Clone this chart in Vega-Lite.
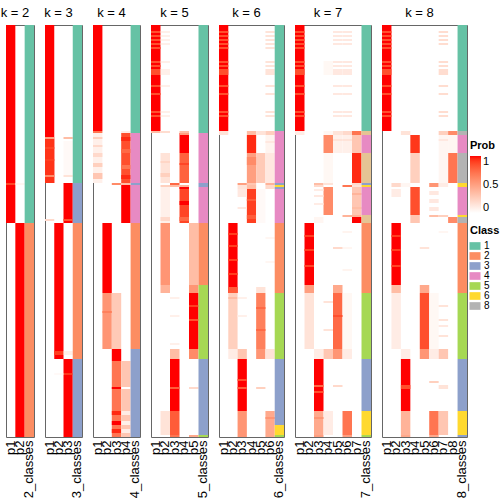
{
"$schema": "https://vega.github.io/schema/vega-lite/v6.json",
"padding": {"left": 0, "top": 6, "right": 0, "bottom": 0},
"bounds": "flush",
"spacing": 11,
"config": {
 "font": "Liberation Sans",
 "view": {"stroke": "#666666", "strokeWidth": 1},
 "title": {"fontSize": 13, "fontWeight": "normal", "offset": 5, "color": "#000000"},
 "axis": {"labelColor": "#000000", "labelFontSize": 13},
 "legend": {"titleFontSize": 11, "labelFontSize": 11, "titleColor": "#000000", "labelColor": "#000000"}
},
"datasets": {
"p": [
{"k":2,"c":"p1","a":0,"b":99,"p":1},
{"k":2,"c":"p1","a":79,"b":80,"p":0.88},
{"k":2,"c":"p2","a":79,"b":80,"p":0.05},
{"k":2,"c":"p2","a":99,"b":206,"p":1},

{"k":3,"c":"p1","a":0,"b":79,"p":1},
{"k":3,"c":"p1","a":56,"b":57,"p":0.5},
{"k":3,"c":"p3","a":56,"b":57,"p":0.35},
{"k":3,"c":"p1","a":57,"b":79,"p":0.93},
{"k":3,"c":"p3","a":58,"b":75,"p":0.03},
{"k":3,"c":"p1","a":61,"b":62,"p":0.88},
{"k":3,"c":"p1","a":67,"b":68,"p":0.9},
{"k":3,"c":"p1","a":75,"b":76,"p":0.6},
{"k":3,"c":"p3","a":75,"b":76,"p":0.15},
{"k":3,"c":"p3","a":79,"b":99,"p":1},
{"k":3,"c":"p1","a":97,"b":98,"p":0.2},
{"k":3,"c":"p3","a":97,"b":98,"p":0.85},
{"k":3,"c":"p2","a":99,"b":167,"p":1},
{"k":3,"c":"p2","a":163,"b":165,"p":0.9},
{"k":3,"c":"p3","a":163,"b":165,"p":0.08},
{"k":3,"c":"p3","a":167,"b":206,"p":1},
{"k":3,"c":"p3","a":174,"b":175,"p":0.92},
{"k":3,"c":"p2","a":174,"b":175,"p":0.03},

{"k":4,"c":"p1","a":0,"b":53,"p":1},
{"k":4,"c":"p1","a":53,"b":54,"p":0.7},
{"k":4,"c":"p4","a":53,"b":54,"p":0.1},
{"k":4,"c":"p1","a":54,"b":79,"p":0.08},
{"k":4,"c":"p1","a":56,"b":57,"p":0.25},
{"k":4,"c":"p1","a":60,"b":61,"p":0.2},
{"k":4,"c":"p1","a":64,"b":66,"p":0.2},
{"k":4,"c":"p1","a":69,"b":71,"p":0.25},
{"k":4,"c":"p1","a":74,"b":77,"p":0.3},
{"k":4,"c":"p4","a":54,"b":79,"p":0.85},
{"k":4,"c":"p4","a":56,"b":58,"p":0.95},
{"k":4,"c":"p4","a":62,"b":64,"p":0.75},
{"k":4,"c":"p4","a":70,"b":72,"p":0.7},
{"k":4,"c":"p4","a":75,"b":77,"p":0.95},
{"k":4,"c":"p3","a":79,"b":80,"p":0.6},
{"k":4,"c":"p4","a":79,"b":80,"p":0.35},
{"k":4,"c":"p4","a":80,"b":99,"p":1},
{"k":4,"c":"p2","a":99,"b":134,"p":1},
{"k":4,"c":"p2","a":134,"b":162,"p":0.55},
{"k":4,"c":"p3","a":134,"b":162,"p":0.28},
{"k":4,"c":"p2","a":143,"b":144,"p":0.65},
{"k":4,"c":"p3","a":162,"b":168,"p":1},
{"k":4,"c":"p3","a":168,"b":206,"p":0.7},
{"k":4,"c":"p4","a":168,"b":206,"p":0.3},
{"k":4,"c":"p3","a":181,"b":182,"p":1},
{"k":4,"c":"p4","a":181,"b":182,"p":0},
{"k":4,"c":"p3","a":193,"b":195,"p":0.95},
{"k":4,"c":"p4","a":193,"b":195,"p":0.1},
{"k":4,"c":"p3","a":198,"b":200,"p":1},
{"k":4,"c":"p4","a":198,"b":200,"p":0.08},
{"k":4,"c":"p3","a":202,"b":204,"p":0.95},
{"k":4,"c":"p4","a":202,"b":204,"p":0.1},

{"k":5,"c":"p1","a":0,"b":53,"p":1},
{"k":5,"c":"p1","a":3,"b":4,"p":0.85},
{"k":5,"c":"p1","a":5,"b":6,"p":0.85},
{"k":5,"c":"p1","a":7,"b":8,"p":0.85},
{"k":5,"c":"p1","a":9,"b":10,"p":0.85},
{"k":5,"c":"p1","a":11,"b":12,"p":0.85},
{"k":5,"c":"p1","a":18,"b":19,"p":0.85},
{"k":5,"c":"p1","a":20,"b":21,"p":0.85},
{"k":5,"c":"p1","a":22,"b":25,"p":0.85},
{"k":5,"c":"p1","a":30,"b":31,"p":0.85},
{"k":5,"c":"p1","a":34,"b":35,"p":0.85},
{"k":5,"c":"p1","a":43,"b":44,"p":0.85},
{"k":5,"c":"p1","a":45,"b":46,"p":0.85},
{"k":5,"c":"p2","a":3,"b":4,"p":0.08},
{"k":5,"c":"p2","a":5,"b":6,"p":0.08},
{"k":5,"c":"p2","a":7,"b":8,"p":0.08},
{"k":5,"c":"p2","a":9,"b":10,"p":0.08},
{"k":5,"c":"p2","a":18,"b":19,"p":0.08},
{"k":5,"c":"p2","a":22,"b":25,"p":0.08},
{"k":5,"c":"p2","a":30,"b":31,"p":0.08},
{"k":5,"c":"p2","a":43,"b":44,"p":0.08},
{"k":5,"c":"p2","a":45,"b":46,"p":0.08},
{"k":5,"c":"p1","a":53,"b":54,"p":0.35},
{"k":5,"c":"p2","a":53,"b":54,"p":0.18},
{"k":5,"c":"p4","a":53,"b":54,"p":0.35},
{"k":5,"c":"p4","a":54,"b":64,"p":1},
{"k":5,"c":"p4","a":54,"b":55,"p":0.5},
{"k":5,"c":"p2","a":64,"b":79,"p":0.15},
{"k":5,"c":"p4","a":64,"b":79,"p":0.78},
{"k":5,"c":"p2","a":68,"b":69,"p":0.22},
{"k":5,"c":"p2","a":74,"b":76,"p":0.25},
{"k":5,"c":"p4","a":69,"b":70,"p":0.88},
{"k":5,"c":"p3","a":79,"b":80,"p":0.75},
{"k":5,"c":"p2","a":80,"b":81,"p":0.25},
{"k":5,"c":"p3","a":80,"b":81,"p":0.35},
{"k":5,"c":"p4","a":80,"b":81,"p":0.4},
{"k":5,"c":"p4","a":81,"b":99,"p":0.88},
{"k":5,"c":"p4","a":81,"b":82,"p":1},
{"k":5,"c":"p4","a":88,"b":90,"p":1},
{"k":5,"c":"p4","a":96,"b":98,"p":0.75},
{"k":5,"c":"p2","a":81,"b":99,"p":0.08},
{"k":5,"c":"p2","a":96,"b":98,"p":0.2},
{"k":5,"c":"p2","a":99,"b":130,"p":0.55},
{"k":5,"c":"p5","a":99,"b":130,"p":0.35},
{"k":5,"c":"p2","a":130,"b":134,"p":0.4},
{"k":5,"c":"p5","a":130,"b":134,"p":0.55},
{"k":5,"c":"p5","a":134,"b":162,"p":1},
{"k":5,"c":"p5","a":140,"b":141,"p":0.9},
{"k":5,"c":"p5","a":147,"b":148,"p":0.85},
{"k":5,"c":"p3","a":136,"b":137,"p":0.08},
{"k":5,"c":"p3","a":145,"b":146,"p":0.08},
{"k":5,"c":"p3","a":159,"b":160,"p":0.08},
{"k":5,"c":"p3","a":162,"b":167,"p":0.35},
{"k":5,"c":"p5","a":162,"b":167,"p":0.6},
{"k":5,"c":"p3","a":167,"b":193,"p":1},
{"k":5,"c":"p3","a":181,"b":182,"p":0.8},
{"k":5,"c":"p5","a":181,"b":182,"p":0.2},
{"k":5,"c":"p3","a":193,"b":205,"p":0.8},
{"k":5,"c":"p2","a":193,"b":205,"p":0.15},
{"k":5,"c":"p3","a":205,"b":206,"p":0.7},
{"k":5,"c":"p5","a":205,"b":206,"p":0.45},

{"k":6,"c":"p1","a":0,"b":53,"p":1},
{"k":6,"c":"p1","a":3,"b":4,"p":0.85},
{"k":6,"c":"p1","a":5,"b":6,"p":0.85},
{"k":6,"c":"p1","a":7,"b":8,"p":0.85},
{"k":6,"c":"p1","a":9,"b":10,"p":0.85},
{"k":6,"c":"p1","a":11,"b":12,"p":0.85},
{"k":6,"c":"p1","a":18,"b":19,"p":0.85},
{"k":6,"c":"p1","a":20,"b":21,"p":0.85},
{"k":6,"c":"p1","a":22,"b":25,"p":0.85},
{"k":6,"c":"p1","a":30,"b":31,"p":0.85},
{"k":6,"c":"p1","a":34,"b":35,"p":0.85},
{"k":6,"c":"p1","a":43,"b":44,"p":0.85},
{"k":6,"c":"p1","a":45,"b":46,"p":0.85},
{"k":6,"c":"p6","a":3,"b":4,"p":0.15},
{"k":6,"c":"p6","a":5,"b":6,"p":0.15},
{"k":6,"c":"p6","a":7,"b":8,"p":0.15},
{"k":6,"c":"p6","a":9,"b":10,"p":0.15},
{"k":6,"c":"p6","a":11,"b":12,"p":0.15},
{"k":6,"c":"p6","a":18,"b":19,"p":0.15},
{"k":6,"c":"p6","a":20,"b":21,"p":0.15},
{"k":6,"c":"p6","a":22,"b":25,"p":0.15},
{"k":6,"c":"p6","a":30,"b":31,"p":0.15},
{"k":6,"c":"p6","a":34,"b":35,"p":0.15},
{"k":6,"c":"p6","a":43,"b":44,"p":0.15},
{"k":6,"c":"p6","a":45,"b":46,"p":0.15},
{"k":6,"c":"p1","a":53,"b":55,"p":0.15},
{"k":6,"c":"p4","a":53,"b":55,"p":0.35},
{"k":6,"c":"p5","a":53,"b":55,"p":0.15},
{"k":6,"c":"p6","a":53,"b":55,"p":0.25},
{"k":6,"c":"p4","a":55,"b":64,"p":0.95},
{"k":6,"c":"p6","a":55,"b":64,"p":0.06},
{"k":6,"c":"p6","a":58,"b":59,"p":0.12},
{"k":6,"c":"p4","a":64,"b":79,"p":0.5},
{"k":6,"c":"p5","a":64,"b":79,"p":0.28},
{"k":6,"c":"p6","a":64,"b":79,"p":0.12},
{"k":6,"c":"p4","a":66,"b":70,"p":0.6},
{"k":6,"c":"p3","a":79,"b":80,"p":0.5},
{"k":6,"c":"p4","a":79,"b":80,"p":0.3},
{"k":6,"c":"p6","a":79,"b":80,"p":0.4},
{"k":6,"c":"p3","a":80,"b":82,"p":0.15},
{"k":6,"c":"p4","a":80,"b":82,"p":0.35},
{"k":6,"c":"p6","a":80,"b":82,"p":0.2},
{"k":6,"c":"p4","a":82,"b":99,"p":0.9},
{"k":6,"c":"p3","a":82,"b":86,"p":0.12},
{"k":6,"c":"p3","a":91,"b":92,"p":0.12},
{"k":6,"c":"p4","a":87,"b":88,"p":0.8},
{"k":6,"c":"p4","a":95,"b":97,"p":0.8},
{"k":6,"c":"p5","a":82,"b":99,"p":0.03},
{"k":6,"c":"p2","a":99,"b":134,"p":1},
{"k":6,"c":"p2","a":104,"b":105,"p":0.9},
{"k":6,"c":"p2","a":110,"b":111,"p":0.9},
{"k":6,"c":"p2","a":117,"b":118,"p":0.9},
{"k":6,"c":"p2","a":124,"b":125,"p":0.9},
{"k":6,"c":"p6","a":106,"b":107,"p":0.05},
{"k":6,"c":"p6","a":118,"b":119,"p":0.05},
{"k":6,"c":"p2","a":131,"b":134,"p":0.8},
{"k":6,"c":"p5","a":131,"b":134,"p":0.15},
{"k":6,"c":"p2","a":134,"b":162,"p":0.25},
{"k":6,"c":"p5","a":134,"b":162,"p":0.65},
{"k":6,"c":"p2","a":136,"b":137,"p":0.35},
{"k":6,"c":"p5","a":141,"b":142,"p":0.75},
{"k":6,"c":"p5","a":152,"b":153,"p":0.75},
{"k":6,"c":"p3","a":136,"b":137,"p":0.08},
{"k":6,"c":"p3","a":145,"b":146,"p":0.08},
{"k":6,"c":"p2","a":162,"b":167,"p":0.1},
{"k":6,"c":"p3","a":162,"b":167,"p":0.3},
{"k":6,"c":"p5","a":162,"b":167,"p":0.55},
{"k":6,"c":"p6","a":162,"b":167,"p":0.15},
{"k":6,"c":"p3","a":167,"b":193,"p":1},
{"k":6,"c":"p3","a":177,"b":178,"p":0.85},
{"k":6,"c":"p3","a":181,"b":182,"p":0.8},
{"k":6,"c":"p5","a":181,"b":182,"p":0.25},
{"k":6,"c":"p3","a":193,"b":206,"p":0.55},
{"k":6,"c":"p6","a":193,"b":206,"p":0.45},
{"k":6,"c":"p6","a":196,"b":197,"p":0.55},

{"k":7,"c":"p1","a":0,"b":53,"p":1},
{"k":7,"c":"p1","a":3,"b":4,"p":0.85},
{"k":7,"c":"p1","a":5,"b":6,"p":0.85},
{"k":7,"c":"p1","a":7,"b":8,"p":0.85},
{"k":7,"c":"p1","a":9,"b":10,"p":0.85},
{"k":7,"c":"p1","a":11,"b":12,"p":0.85},
{"k":7,"c":"p1","a":18,"b":19,"p":0.85},
{"k":7,"c":"p1","a":20,"b":21,"p":0.85},
{"k":7,"c":"p1","a":22,"b":25,"p":0.85},
{"k":7,"c":"p1","a":30,"b":31,"p":0.85},
{"k":7,"c":"p1","a":34,"b":35,"p":0.85},
{"k":7,"c":"p1","a":43,"b":44,"p":0.85},
{"k":7,"c":"p1","a":45,"b":46,"p":0.85},
{"k":7,"c":"p5","a":3,"b":4,"p":0.12},
{"k":7,"c":"p5","a":5,"b":6,"p":0.12},
{"k":7,"c":"p5","a":7,"b":8,"p":0.12},
{"k":7,"c":"p5","a":9,"b":10,"p":0.12},
{"k":7,"c":"p5","a":18,"b":19,"p":0.12},
{"k":7,"c":"p5","a":20,"b":21,"p":0.12},
{"k":7,"c":"p5","a":22,"b":25,"p":0.12},
{"k":7,"c":"p5","a":30,"b":31,"p":0.12},
{"k":7,"c":"p5","a":34,"b":35,"p":0.12},
{"k":7,"c":"p5","a":43,"b":44,"p":0.12},
{"k":7,"c":"p5","a":45,"b":46,"p":0.12},
{"k":7,"c":"p6","a":3,"b":4,"p":0.12},
{"k":7,"c":"p6","a":5,"b":6,"p":0.12},
{"k":7,"c":"p6","a":7,"b":8,"p":0.12},
{"k":7,"c":"p6","a":9,"b":10,"p":0.12},
{"k":7,"c":"p6","a":18,"b":19,"p":0.12},
{"k":7,"c":"p6","a":20,"b":21,"p":0.12},
{"k":7,"c":"p6","a":22,"b":25,"p":0.12},
{"k":7,"c":"p6","a":30,"b":31,"p":0.12},
{"k":7,"c":"p6","a":34,"b":35,"p":0.12},
{"k":7,"c":"p6","a":43,"b":44,"p":0.12},
{"k":7,"c":"p6","a":45,"b":46,"p":0.12},
{"k":7,"c":"p4","a":18,"b":25,"p":0.04},
{"k":7,"c":"p1","a":53,"b":55,"p":0.1},
{"k":7,"c":"p4","a":53,"b":55,"p":0.05},
{"k":7,"c":"p5","a":53,"b":55,"p":0.15},
{"k":7,"c":"p6","a":53,"b":55,"p":0.2},
{"k":7,"c":"p7","a":53,"b":55,"p":0.7},
{"k":7,"c":"p4","a":55,"b":64,"p":0.6},
{"k":7,"c":"p5","a":55,"b":64,"p":0.08},
{"k":7,"c":"p6","a":55,"b":64,"p":0.08},
{"k":7,"c":"p7","a":55,"b":64,"p":0.3},
{"k":7,"c":"p5","a":57,"b":58,"p":0.15},
{"k":7,"c":"p6","a":57,"b":58,"p":0.15},
{"k":7,"c":"p7","a":64,"b":79,"p":0.95},
{"k":7,"c":"p4","a":64,"b":79,"p":0.04},
{"k":7,"c":"p3","a":79,"b":80,"p":0.35},
{"k":7,"c":"p4","a":79,"b":80,"p":0.15},
{"k":7,"c":"p7","a":79,"b":80,"p":0.2},
{"k":7,"c":"p3","a":80,"b":81,"p":0.2},
{"k":7,"c":"p6","a":80,"b":81,"p":0.7},
{"k":7,"c":"p7","a":80,"b":81,"p":0.15},
{"k":7,"c":"p4","a":81,"b":95,"p":0.6},
{"k":7,"c":"p7","a":81,"b":95,"p":0.3},
{"k":7,"c":"p3","a":82,"b":83,"p":0.1},
{"k":7,"c":"p3","a":85,"b":86,"p":0.12},
{"k":7,"c":"p3","a":89,"b":90,"p":0.1},
{"k":7,"c":"p7","a":84,"b":85,"p":0.4},
{"k":7,"c":"p7","a":91,"b":92,"p":0.35},
{"k":7,"c":"p6","a":95,"b":96,"p":0.4},
{"k":7,"c":"p7","a":95,"b":96,"p":0.4},
{"k":7,"c":"p7","a":96,"b":99,"p":1},
{"k":7,"c":"p3","a":96,"b":99,"p":0.05},
{"k":7,"c":"p2","a":99,"b":130,"p":1},
{"k":7,"c":"p2","a":105,"b":106,"p":0.9},
{"k":7,"c":"p2","a":112,"b":113,"p":0.9},
{"k":7,"c":"p2","a":120,"b":121,"p":0.88},
{"k":7,"c":"p6","a":103,"b":104,"p":0.06},
{"k":7,"c":"p6","a":111,"b":112,"p":0.05},
{"k":7,"c":"p5","a":111,"b":112,"p":0.2},
{"k":7,"c":"p6","a":122,"b":123,"p":0.06},
{"k":7,"c":"p2","a":130,"b":134,"p":0.5},
{"k":7,"c":"p5","a":130,"b":134,"p":0.45},
{"k":7,"c":"p2","a":134,"b":162,"p":0.15},
{"k":7,"c":"p5","a":134,"b":162,"p":0.75},
{"k":7,"c":"p4","a":138,"b":139,"p":0.15},
{"k":7,"c":"p4","a":152,"b":153,"p":0.15},
{"k":7,"c":"p6","a":134,"b":162,"p":0.04},
{"k":7,"c":"p5","a":145,"b":146,"p":0.85},
{"k":7,"c":"p3","a":162,"b":167,"p":0.1},
{"k":7,"c":"p4","a":162,"b":167,"p":0.3},
{"k":7,"c":"p5","a":162,"b":167,"p":0.55},
{"k":7,"c":"p6","a":162,"b":167,"p":0.1},
{"k":7,"c":"p3","a":167,"b":193,"p":1},
{"k":7,"c":"p3","a":180,"b":181,"p":0.75},
{"k":7,"c":"p5","a":180,"b":181,"p":0.2},
{"k":7,"c":"p3","a":183,"b":184,"p":0.85},
{"k":7,"c":"p3","a":193,"b":205,"p":0.45},
{"k":7,"c":"p4","a":193,"b":205,"p":0.1},
{"k":7,"c":"p6","a":193,"b":205,"p":0.7},
{"k":7,"c":"p3","a":196,"b":197,"p":0.55},
{"k":7,"c":"p3","a":205,"b":206,"p":0.5},
{"k":7,"c":"p6","a":205,"b":206,"p":0.5},

{"k":8,"c":"p1","a":0,"b":53,"p":1},
{"k":8,"c":"p1","a":3,"b":4,"p":0.85},
{"k":8,"c":"p1","a":5,"b":6,"p":0.85},
{"k":8,"c":"p1","a":7,"b":8,"p":0.85},
{"k":8,"c":"p1","a":9,"b":10,"p":0.85},
{"k":8,"c":"p1","a":11,"b":12,"p":0.85},
{"k":8,"c":"p1","a":18,"b":19,"p":0.85},
{"k":8,"c":"p1","a":20,"b":21,"p":0.85},
{"k":8,"c":"p1","a":22,"b":25,"p":0.85},
{"k":8,"c":"p1","a":30,"b":31,"p":0.85},
{"k":8,"c":"p1","a":34,"b":35,"p":0.85},
{"k":8,"c":"p1","a":43,"b":44,"p":0.85},
{"k":8,"c":"p1","a":45,"b":46,"p":0.85},
{"k":8,"c":"p7","a":3,"b":4,"p":0.18},
{"k":8,"c":"p7","a":5,"b":6,"p":0.18},
{"k":8,"c":"p7","a":7,"b":8,"p":0.18},
{"k":8,"c":"p7","a":9,"b":10,"p":0.18},
{"k":8,"c":"p7","a":18,"b":19,"p":0.18},
{"k":8,"c":"p7","a":20,"b":21,"p":0.18},
{"k":8,"c":"p7","a":22,"b":25,"p":0.18},
{"k":8,"c":"p7","a":30,"b":31,"p":0.18},
{"k":8,"c":"p7","a":34,"b":35,"p":0.18},
{"k":8,"c":"p7","a":43,"b":44,"p":0.18},
{"k":8,"c":"p7","a":45,"b":46,"p":0.18},
{"k":8,"c":"p3","a":53,"b":55,"p":0.15},
{"k":8,"c":"p7","a":53,"b":55,"p":0.25},
{"k":8,"c":"p8","a":53,"b":55,"p":0.6},
{"k":8,"c":"p4","a":55,"b":64,"p":0.92},
{"k":8,"c":"p7","a":55,"b":64,"p":0.05},
{"k":8,"c":"p8","a":55,"b":64,"p":0.05},
{"k":8,"c":"p7","a":57,"b":58,"p":0.12},
{"k":8,"c":"p4","a":64,"b":79,"p":0.25},
{"k":8,"c":"p8","a":64,"b":79,"p":0.7},
{"k":8,"c":"p7","a":64,"b":79,"p":0.05},
{"k":8,"c":"p2","a":79,"b":81,"p":0.2},
{"k":8,"c":"p3","a":79,"b":81,"p":0.05},
{"k":8,"c":"p6","a":79,"b":81,"p":0.55},
{"k":8,"c":"p7","a":79,"b":81,"p":0.1},
{"k":8,"c":"p4","a":81,"b":95,"p":0.85},
{"k":8,"c":"p2","a":82,"b":86,"p":0.1},
{"k":8,"c":"p6","a":83,"b":85,"p":0.12},
{"k":8,"c":"p6","a":87,"b":89,"p":0.12},
{"k":8,"c":"p6","a":91,"b":93,"p":0.12},
{"k":8,"c":"p4","a":95,"b":96,"p":0.3},
{"k":8,"c":"p6","a":95,"b":96,"p":0.35},
{"k":8,"c":"p7","a":95,"b":96,"p":0.25},
{"k":8,"c":"p4","a":96,"b":99,"p":0.3},
{"k":8,"c":"p8","a":96,"b":99,"p":0.6},
{"k":8,"c":"p2","a":99,"b":130,"p":1},
{"k":8,"c":"p2","a":105,"b":106,"p":0.9},
{"k":8,"c":"p2","a":112,"b":113,"p":0.9},
{"k":8,"c":"p2","a":120,"b":121,"p":0.88},
{"k":8,"c":"p7","a":103,"b":104,"p":0.05},
{"k":8,"c":"p5","a":111,"b":112,"p":0.15},
{"k":8,"c":"p2","a":130,"b":134,"p":0.35},
{"k":8,"c":"p5","a":130,"b":134,"p":0.45},
{"k":8,"c":"p2","a":134,"b":162,"p":0.1},
{"k":8,"c":"p5","a":134,"b":162,"p":0.85},
{"k":8,"c":"p6","a":134,"b":162,"p":0.04},
{"k":8,"c":"p7","a":140,"b":141,"p":0.15},
{"k":8,"c":"p7","a":147,"b":148,"p":0.15},
{"k":8,"c":"p7","a":150,"b":151,"p":0.12},
{"k":8,"c":"p7","a":155,"b":156,"p":0.15},
{"k":8,"c":"p3","a":162,"b":167,"p":0.1},
{"k":8,"c":"p5","a":162,"b":167,"p":0.55},
{"k":8,"c":"p6","a":162,"b":167,"p":0.1},
{"k":8,"c":"p7","a":162,"b":167,"p":0.3},
{"k":8,"c":"p3","a":167,"b":193,"p":1},
{"k":8,"c":"p6","a":178,"b":179,"p":0.25},
{"k":8,"c":"p3","a":180,"b":182,"p":0.85},
{"k":8,"c":"p7","a":180,"b":182,"p":0.15},
{"k":8,"c":"p3","a":193,"b":205,"p":0.4},
{"k":8,"c":"p6","a":193,"b":205,"p":0.7},
{"k":8,"c":"p7","a":193,"b":205,"p":0.3},
{"k":8,"c":"p3","a":205,"b":206,"p":0.45},
{"k":8,"c":"p6","a":205,"b":206,"p":0.45}
],
"c": [
{"k":2,"c":"2_classes","a":0,"b":99,"cl":"1"},
{"k":2,"c":"2_classes","a":99,"b":206,"cl":"2"},
{"k":3,"c":"3_classes","a":0,"b":79,"cl":"1"},
{"k":3,"c":"3_classes","a":79,"b":99,"cl":"3"},
{"k":3,"c":"3_classes","a":99,"b":167,"cl":"2"},
{"k":3,"c":"3_classes","a":167,"b":206,"cl":"3"},
{"k":4,"c":"4_classes","a":0,"b":54,"cl":"1"},
{"k":4,"c":"4_classes","a":54,"b":79,"cl":"4"},
{"k":4,"c":"4_classes","a":79,"b":80,"cl":"3"},
{"k":4,"c":"4_classes","a":80,"b":99,"cl":"4"},
{"k":4,"c":"4_classes","a":99,"b":162,"cl":"2"},
{"k":4,"c":"4_classes","a":162,"b":206,"cl":"3"},
{"k":5,"c":"5_classes","a":0,"b":54,"cl":"1"},
{"k":5,"c":"5_classes","a":54,"b":79,"cl":"4"},
{"k":5,"c":"5_classes","a":79,"b":81,"cl":"3"},
{"k":5,"c":"5_classes","a":81,"b":99,"cl":"4"},
{"k":5,"c":"5_classes","a":99,"b":130,"cl":"2"},
{"k":5,"c":"5_classes","a":130,"b":167,"cl":"5"},
{"k":5,"c":"5_classes","a":167,"b":205,"cl":"3"},
{"k":5,"c":"5_classes","a":205,"b":206,"cl":"5"},
{"k":6,"c":"6_classes","a":0,"b":53,"cl":"1"},
{"k":6,"c":"6_classes","a":53,"b":79,"cl":"4"},
{"k":6,"c":"6_classes","a":79,"b":80,"cl":"3"},
{"k":6,"c":"6_classes","a":80,"b":81,"cl":"6"},
{"k":6,"c":"6_classes","a":81,"b":82,"cl":"3"},
{"k":6,"c":"6_classes","a":82,"b":99,"cl":"4"},
{"k":6,"c":"6_classes","a":99,"b":134,"cl":"2"},
{"k":6,"c":"6_classes","a":134,"b":167,"cl":"5"},
{"k":6,"c":"6_classes","a":167,"b":200,"cl":"3"},
{"k":6,"c":"6_classes","a":200,"b":205,"cl":"6"},
{"k":6,"c":"6_classes","a":205,"b":206,"cl":"5"},
{"k":7,"c":"7_classes","a":0,"b":53,"cl":"1"},
{"k":7,"c":"7_classes","a":53,"b":55,"cl":"7"},
{"k":7,"c":"7_classes","a":55,"b":64,"cl":"4"},
{"k":7,"c":"7_classes","a":64,"b":79,"cl":"7"},
{"k":7,"c":"7_classes","a":79,"b":80,"cl":"3"},
{"k":7,"c":"7_classes","a":80,"b":81,"cl":"6"},
{"k":7,"c":"7_classes","a":81,"b":95,"cl":"4"},
{"k":7,"c":"7_classes","a":95,"b":99,"cl":"7"},
{"k":7,"c":"7_classes","a":99,"b":134,"cl":"2"},
{"k":7,"c":"7_classes","a":134,"b":167,"cl":"5"},
{"k":7,"c":"7_classes","a":167,"b":193,"cl":"3"},
{"k":7,"c":"7_classes","a":193,"b":205,"cl":"6"},
{"k":7,"c":"7_classes","a":205,"b":206,"cl":"5"},
{"k":8,"c":"8_classes","a":0,"b":53,"cl":"1"},
{"k":8,"c":"8_classes","a":53,"b":55,"cl":"8"},
{"k":8,"c":"8_classes","a":55,"b":64,"cl":"4"},
{"k":8,"c":"8_classes","a":64,"b":79,"cl":"8"},
{"k":8,"c":"8_classes","a":79,"b":81,"cl":"6"},
{"k":8,"c":"8_classes","a":81,"b":95,"cl":"4"},
{"k":8,"c":"8_classes","a":95,"b":96,"cl":"6"},
{"k":8,"c":"8_classes","a":96,"b":99,"cl":"8"},
{"k":8,"c":"8_classes","a":99,"b":134,"cl":"2"},
{"k":8,"c":"8_classes","a":134,"b":167,"cl":"5"},
{"k":8,"c":"8_classes","a":167,"b":193,"cl":"3"},
{"k":8,"c":"8_classes","a":193,"b":205,"cl":"6"},
{"k":8,"c":"8_classes","a":205,"b":206,"cl":"3"}
]
},
"hconcat": [
{"width": 28, "height": 412, "title": {"text": "k = 2", "dx": -5},
 "layer": [
 {"data": {"name": "p"}, "transform": [{"filter": "datum.k == 2"}], "mark": {"type": "rect", "strokeWidth": 0},
  "encoding": {
   "x": {"field": "c", "type": "nominal", "scale": {"domain": ["p1","p2","2_classes"], "paddingInner": 0, "paddingOuter": 0}, "axis": {"title": null, "labelAngle": -90, "ticks": false, "domain": false, "labelPadding": 3}},
   "y": {"field": "a", "type": "quantitative", "scale": {"domain": [0, 206], "reverse": true, "nice": false, "zero": false}, "axis": null},
   "y2": {"field": "b"},
   "color": {"field": "p", "type": "quantitative", "scale": {"domain": [0, 1], "range": ["#ffffff", "#ff0000"], "interpolate": "lab"},
     "legend": {"title": "Prob", "orient": "none", "legendX": 464, "legendY": 115, "values": [0, 0.5, 1], "format": "~g", "gradientLength": 57, "gradientThickness": 11, "direction": "vertical"}}}},
 {"data": {"name": "c"}, "transform": [{"filter": "datum.k == 2"}], "mark": {"type": "rect", "strokeWidth": 0},
  "encoding": {
   "x": {"field": "c", "type": "nominal"},
   "y": {"field": "a", "type": "quantitative"},
   "y2": {"field": "b"},
   "fill": {"field": "cl", "type": "nominal", "scale": {"domain": ["1","2","3","4","5","6","7","8"], "range": ["#66C2A5","#FC8D62","#8DA0CB","#E78AC3","#A6D854","#FFD92F","#E5C494","#B3B3B3"]},
     "legend": {"title": "Class", "orient": "none", "legendX": 464, "legendY": 200, "values": ["1","2","3","4","5","6","8"], "symbolType": "M-1.15,-0.8H1.15V0.8H-1.15Z", "symbolSize": 92, "symbolStrokeWidth": 0, "labelFontSize": 10, "rowPadding": 0}}}}
 ]},
{"width": 37, "height": 412, "title": {"text": "k = 3", "dx": -5},
 "layer": [
 {"data": {"name": "p"}, "transform": [{"filter": "datum.k == 3"}], "mark": {"type": "rect", "strokeWidth": 0},
  "encoding": {
   "x": {"field": "c", "type": "nominal", "scale": {"domain": ["p1","p2","p3","3_classes"], "paddingInner": 0, "paddingOuter": 0}, "axis": {"title": null, "labelAngle": -90, "ticks": false, "domain": false, "labelPadding": 3}},
   "y": {"field": "a", "type": "quantitative", "scale": {"domain": [0, 206], "reverse": true, "nice": false, "zero": false}, "axis": null},
   "y2": {"field": "b"},
   "color": {"field": "p", "type": "quantitative", "legend": null}}},
 {"data": {"name": "c"}, "transform": [{"filter": "datum.k == 3"}], "mark": {"type": "rect", "strokeWidth": 0},
  "encoding": {
   "x": {"field": "c", "type": "nominal"},
   "y": {"field": "a", "type": "quantitative"},
   "y2": {"field": "b"},
   "fill": {"field": "cl", "type": "nominal", "legend": null}}}
 ]},
{"width": 47, "height": 412, "title": {"text": "k = 4", "dx": -5},
 "layer": [
 {"data": {"name": "p"}, "transform": [{"filter": "datum.k == 4"}], "mark": {"type": "rect", "strokeWidth": 0},
  "encoding": {
   "x": {"field": "c", "type": "nominal", "scale": {"domain": ["p1","p2","p3","p4","4_classes"], "paddingInner": 0, "paddingOuter": 0}, "axis": {"title": null, "labelAngle": -90, "ticks": false, "domain": false, "labelPadding": 3}},
   "y": {"field": "a", "type": "quantitative", "scale": {"domain": [0, 206], "reverse": true, "nice": false, "zero": false}, "axis": null},
   "y2": {"field": "b"},
   "color": {"field": "p", "type": "quantitative", "legend": null}}},
 {"data": {"name": "c"}, "transform": [{"filter": "datum.k == 4"}], "mark": {"type": "rect", "strokeWidth": 0},
  "encoding": {
   "x": {"field": "c", "type": "nominal"},
   "y": {"field": "a", "type": "quantitative"},
   "y2": {"field": "b"},
   "fill": {"field": "cl", "type": "nominal", "legend": null}}}
 ]},
{"width": 57, "height": 412, "title": {"text": "k = 5", "dx": -5},
 "layer": [
 {"data": {"name": "p"}, "transform": [{"filter": "datum.k == 5"}], "mark": {"type": "rect", "strokeWidth": 0},
  "encoding": {
   "x": {"field": "c", "type": "nominal", "scale": {"domain": ["p1","p2","p3","p4","p5","5_classes"], "paddingInner": 0, "paddingOuter": 0}, "axis": {"title": null, "labelAngle": -90, "ticks": false, "domain": false, "labelPadding": 3}},
   "y": {"field": "a", "type": "quantitative", "scale": {"domain": [0, 206], "reverse": true, "nice": false, "zero": false}, "axis": null},
   "y2": {"field": "b"},
   "color": {"field": "p", "type": "quantitative", "legend": null}}},
 {"data": {"name": "c"}, "transform": [{"filter": "datum.k == 5"}], "mark": {"type": "rect", "strokeWidth": 0},
  "encoding": {
   "x": {"field": "c", "type": "nominal"},
   "y": {"field": "a", "type": "quantitative"},
   "y2": {"field": "b"},
   "fill": {"field": "cl", "type": "nominal", "legend": null}}}
 ]},
{"width": 65, "height": 412, "title": {"text": "k = 6", "dx": -5},
 "layer": [
 {"data": {"name": "p"}, "transform": [{"filter": "datum.k == 6"}], "mark": {"type": "rect", "strokeWidth": 0},
  "encoding": {
   "x": {"field": "c", "type": "nominal", "scale": {"domain": ["p1","p2","p3","p4","p5","p6","6_classes"], "paddingInner": 0, "paddingOuter": 0}, "axis": {"title": null, "labelAngle": -90, "ticks": false, "domain": false, "labelPadding": 3}},
   "y": {"field": "a", "type": "quantitative", "scale": {"domain": [0, 206], "reverse": true, "nice": false, "zero": false}, "axis": null},
   "y2": {"field": "b"},
   "color": {"field": "p", "type": "quantitative", "legend": null}}},
 {"data": {"name": "c"}, "transform": [{"filter": "datum.k == 6"}], "mark": {"type": "rect", "strokeWidth": 0},
  "encoding": {
   "x": {"field": "c", "type": "nominal"},
   "y": {"field": "a", "type": "quantitative"},
   "y2": {"field": "b"},
   "fill": {"field": "cl", "type": "nominal", "legend": null}}}
 ]},
{"width": 76, "height": 412, "title": {"text": "k = 7", "dx": -5},
 "layer": [
 {"data": {"name": "p"}, "transform": [{"filter": "datum.k == 7"}], "mark": {"type": "rect", "strokeWidth": 0},
  "encoding": {
   "x": {"field": "c", "type": "nominal", "scale": {"domain": ["p1","p2","p3","p4","p5","p6","p7","7_classes"], "paddingInner": 0, "paddingOuter": 0}, "axis": {"title": null, "labelAngle": -90, "ticks": false, "domain": false, "labelPadding": 3}},
   "y": {"field": "a", "type": "quantitative", "scale": {"domain": [0, 206], "reverse": true, "nice": false, "zero": false}, "axis": null},
   "y2": {"field": "b"},
   "color": {"field": "p", "type": "quantitative", "legend": null}}},
 {"data": {"name": "c"}, "transform": [{"filter": "datum.k == 7"}], "mark": {"type": "rect", "strokeWidth": 0},
  "encoding": {
   "x": {"field": "c", "type": "nominal"},
   "y": {"field": "a", "type": "quantitative"},
   "y2": {"field": "b"},
   "fill": {"field": "cl", "type": "nominal", "legend": null}}}
 ]},
{"width": 85, "height": 412, "title": {"text": "k = 8", "dx": -5},
 "layer": [
 {"data": {"name": "p"}, "transform": [{"filter": "datum.k == 8"}], "mark": {"type": "rect", "strokeWidth": 0},
  "encoding": {
   "x": {"field": "c", "type": "nominal", "scale": {"domain": ["p1","p2","p3","p4","p5","p6","p7","p8","8_classes"], "paddingInner": 0, "paddingOuter": 0}, "axis": {"title": null, "labelAngle": -90, "ticks": false, "domain": false, "labelPadding": 3}},
   "y": {"field": "a", "type": "quantitative", "scale": {"domain": [0, 206], "reverse": true, "nice": false, "zero": false}, "axis": null},
   "y2": {"field": "b"},
   "color": {"field": "p", "type": "quantitative", "legend": null}}},
 {"data": {"name": "c"}, "transform": [{"filter": "datum.k == 8"}], "mark": {"type": "rect", "strokeWidth": 0},
  "encoding": {
   "x": {"field": "c", "type": "nominal"},
   "y": {"field": "a", "type": "quantitative"},
   "y2": {"field": "b"},
   "fill": {"field": "cl", "type": "nominal", "legend": null}}}
 ]}
],
"resolve": {"scale": {"color": "shared", "fill": "shared"}}
}
